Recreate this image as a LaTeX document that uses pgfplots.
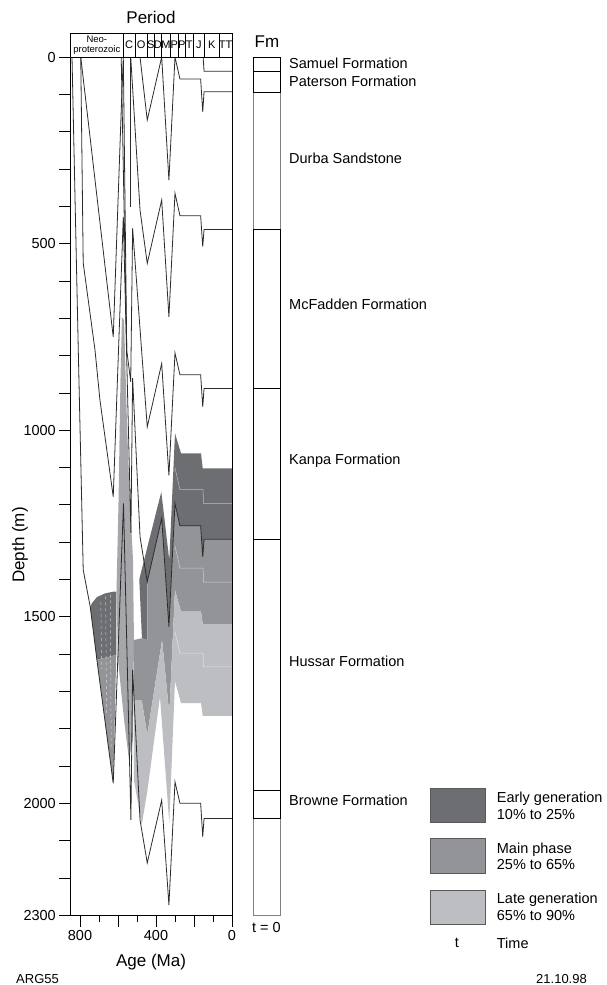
\documentclass[border=0pt]{standalone}
\usepackage{pgfplots}
\pgfplotsset{compat=1.18}
\usepackage{fontspec}
\setmainfont{Liberation Sans}
\definecolor{dk}{HTML}{6D6E71}
\definecolor{md}{HTML}{939497}
\definecolor{lt}{HTML}{BDBEC1}
\definecolor{ln}{HTML}{2B2B2B}
\newcommand\fs[1]{\fontsize{#1bp}{#1bp}\selectfont}
\begin{document}
\begin{tikzpicture}
\useasboundingbox (0bp,0bp) rectangle (607bp,-985bp);

% ---------------- main burial-history axis ----------------
\begin{axis}[at={(70.3bp,-915.5bp)}, anchor=south west, scale only axis,
  width=161.7bp, height=858.5bp,
  xmin=0, xmax=851, x dir=reverse,
  ymin=0, ymax=2300, y dir=reverse,
  axis line style={line width=0.9bp},
  tick align=outside, tick style={black, line width=0.9bp},
  major tick length=11bp, minor tick length=11bp,
  xtick pos=left, ytick pos=left,
  xtick={0,200,400,600,800}, xticklabels={0,,400,,800},
  extra x ticks={100,300,500,700}, extra x tick labels={},
  extra x tick style={major tick length=6bp},
  ytick={0,500,1000,1500,2000,2300}, minor ytick={100,200,...,2200},
  ticklabel style={font=\fs{14.5}},
  /pgf/number format/assume math mode=true, /pgf/number format/1000 sep={},
]
% maturity zones
\addplot[fill=dk, draw=none] coordinates {(746,1473)(737,1463)(711,1447)(668,1437)(621,1432)(608,1433)(609,1602)(711,1615)} -- cycle;
\addplot[fill=md, draw=none] coordinates {(711,1615)(609,1602)(625,1946)} -- cycle;
\addplot[fill=md!55!lt, draw=none] coordinates {(608,1433)(597,1187)(587,865)(579,697)(568,705)(553,972)(542,1133)(521,1348)(516,1562)(521,1830)(542,1883)(568,1776)(600,1615)} -- cycle;
\addplot[fill=dk, draw=none] coordinates {(488,1399)(372,1165)(330,1348)(300,1008)(268,1062)(163,1062)(154,1102)(0,1102)(0,1292)(147,1292)(154,1339)(165,1256)(274,1256)(300,1196)(332,1526)(370,1236)(446,1406)(446,1562)(474,1557)} -- cycle;
\addplot[fill=md, draw=none] coordinates {(516,1562)(474,1557)(446,1562)(446,1406)(370,1236)(332,1526)(300,1196)(274,1256)(165,1256)(154,1339)(147,1292)(0,1292)(0,1519)(154,1519)(163,1486)(268,1486)(300,1428)(330,1760)(368,1562)(446,1816)(475,1723)(516,1723)} -- cycle;
\addplot[fill=lt, draw=none] coordinates {(516,1723)(475,1723)(446,1816)(368,1562)(330,1760)(300,1428)(268,1486)(163,1486)(154,1519)(0,1519)(0,1765)(154,1765)(163,1731)(268,1731)(300,1672)(330,2052)(379,1714)(446,1968)(475,2057)(516,1937)} -- cycle;
% faint sub-layer lines
\addplot[white, opacity=0.55, line width=0.5bp] coordinates {(0,1196)(150,1196)(152,1159)(274,1159)(300,1100)};
\addplot[white, opacity=0.55, line width=0.5bp] coordinates {(0,1407)(150,1407)(152,1369)(274,1369)(300,1310)};
\addplot[white, opacity=0.55, line width=0.5bp] coordinates {(0,1634)(150,1634)(152,1597)(274,1597)(300,1540)};
\addplot[white, opacity=0.6, line width=0.5bp, dashed] coordinates {(690,1460)(686,1640)};
\addplot[white, opacity=0.6, line width=0.5bp, dashed] coordinates {(665,1445)(660,1760)};
\addplot[white, opacity=0.6, line width=0.5bp, dashed] coordinates {(640,1440)(636,1850)};
% burial curves
\addplot[ln, line width=0.8bp] coordinates {(842,0)(809,785)(783,1374)(746,1473)(711,1615)(625,1946)(571,1196)(532,2044)(523,1642)(484,2044)(446,2159)(370,1991)(332,2272)(300,1942)(274,1999)(165,1999)(154,2089)(147,2040)(0,2040)};
\addplot[ln, line width=0.8bp] coordinates {(796,0)(783,552)(721,785)(695,919)(625,1178)(572,428)(532,1275)(523,860)(484,1285)(446,1406)(370,1236)(332,1526)(300,1196)(274,1256)(165,1256)(154,1339)(147,1292)(0,1292)};
\addplot[ln, line width=0.8bp] coordinates {(796,0)(625,750)(581,115)(572,0)(554,785)(533,870)(523,459)(446,991)(370,821)(332,1121)(300,793)(274,851)(165,851)(154,937)(147,888)(0,888)};
\addplot[ln, line width=0.8bp] coordinates {(533,0)(484,410)(446,553)(370,383)(332,696)(300,365)(274,425)(165,425)(154,508)(147,462)(0,462)};
\addplot[ln, line width=0.8bp] coordinates {(484,0)(446,169)(370,0)(332,330)(300,0)(274,59)(165,59)(154,147)(147,93)(0,93)};
\addplot[ln, line width=0.8bp] coordinates {(152,0)(147,38)(0,38)};
\addplot[ln, line width=0.8bp] coordinates {(533,0)(533,401)};
\addplot[ln, line width=0.8bp] coordinates {(583,0)(554,785)};
\end{axis}

% ---------------- formation column ----------------
\begin{axis}[at={(253.3bp,-915.5bp)}, anchor=south west, scale only axis,
  width=27.4bp, height=858.5bp, xmin=0, xmax=1, ymin=0, ymax=2300, y dir=reverse,
  hide axis, clip=false]
\addplot[gray, line width=0.8bp] coordinates {(0,0)(1,0)(1,2300)(0,2300)} -- cycle;
\addplot[black, line width=1bp] coordinates {(0,0)(1,0)(1,95)(0,95)} -- cycle;
\addplot[black, line width=0.8bp] coordinates {(0,38)(1,38)};
\addplot[black, line width=1bp] coordinates {(0,462)(1,462)(1,2040)(0,2040)} -- cycle;
\addplot[black, line width=0.8bp] coordinates {(0,887)(1,887)};
\addplot[black, line width=0.8bp] coordinates {(0,1292)(1,1292)};
\addplot[black, line width=0.8bp] coordinates {(0,1965)(1,1965)};
\end{axis}

% ---------------- overlay: header, labels, legend ----------------
\begin{axis}[at={(0bp,-985bp)}, anchor=south west, scale only axis,
  width=607bp, height=985bp, xmin=0, xmax=607, ymin=0, ymax=985, y dir=reverse,
  hide axis, clip=false]
\addplot[fill=dk, draw=black!65, line width=0.8bp] coordinates {(430,788.3)(485,788.3)(485,822.3)(430,822.3)} -- cycle;
\addplot[fill=md, draw=black!65, line width=0.8bp] coordinates {(430,838.3)(485,838.3)(485,873.3)(430,873.3)} -- cycle;
\addplot[fill=lt, draw=black!65, line width=0.8bp] coordinates {(430,890)(485,890)(485,924)(430,924)} -- cycle;

\draw[line width=0.8bp] (axis cs:70.3,33) rectangle (axis cs:232,57);
\draw[line width=0.6bp] (axis cs:123.3,33) -- (axis cs:123.3,57)
  (axis cs:135,33) -- (axis cs:135,57) (axis cs:147.3,33) -- (axis cs:147.3,57)
  (axis cs:154,33) -- (axis cs:154,57) (axis cs:161.7,33) -- (axis cs:161.7,57)
  (axis cs:170,33) -- (axis cs:170,57) (axis cs:178.3,33) -- (axis cs:178.3,57)
  (axis cs:185.3,33) -- (axis cs:185.3,57) (axis cs:193.3,33) -- (axis cs:193.3,57)
  (axis cs:204.3,33) -- (axis cs:204.3,57) (axis cs:219.3,33) -- (axis cs:219.3,57);
\node[font=\fs{17}] at (axis cs:151,17) {Period};
\node[font=\fontsize{9.5bp}{9.6bp}\selectfont, align=center, inner sep=0pt] at (axis cs:96.8,45) {Neo-\\proterozoic};
\node[font=\fs{11}, inner sep=0pt] at (axis cs:129.2,44.5) {C};
\node[font=\fs{11}, inner sep=0pt] at (axis cs:141.2,44.5) {O};
\node[font=\fs{11}, inner sep=0pt] at (axis cs:150.7,44.5) {S};
\node[font=\fs{11}, inner sep=0pt] at (axis cs:157.9,44.5) {D};
\node[font=\fs{11}, inner sep=0pt] at (axis cs:165.9,44.5) {M};
\node[font=\fs{11}, inner sep=0pt] at (axis cs:174.2,44.5) {P};
\node[font=\fs{11}, inner sep=0pt] at (axis cs:181.8,44.5) {P};
\node[font=\fs{11}, inner sep=0pt] at (axis cs:189.3,44.5) {T};
\node[font=\fs{11}, inner sep=0pt] at (axis cs:198.8,44.5) {J};
\node[font=\fs{11}, inner sep=0pt] at (axis cs:211.8,44.5) {K};
\node[font=\fs{11}, inner sep=0pt] at (axis cs:225.7,44.5) {TT};

\node[font=\fs{17}, rotate=90] at (axis cs:20,545) {Depth (m)};
\node[font=\fs{17}] at (axis cs:151,962) {Age (Ma)};
\node[font=\fs{17}] at (axis cs:267,42) {Fm};
\node[font=\fs{14.5}] at (axis cs:266.5,927) {t = 0};

\node[font=\fs{14.5}, anchor=west, inner sep=0pt] at (axis cs:289,63) {Samuel Formation};
\node[font=\fs{14.5}, anchor=west, inner sep=0pt] at (axis cs:289,81) {Paterson Formation};
\node[font=\fs{14.5}, anchor=west, inner sep=0pt] at (axis cs:289,158) {Durba Sandstone};
\node[font=\fs{14.5}, anchor=west, inner sep=0pt] at (axis cs:289,304) {McFadden Formation};
\node[font=\fs{14.5}, anchor=west, inner sep=0pt] at (axis cs:289,461) {Kanpa Formation};
\node[font=\fs{14.5}, anchor=west, inner sep=0pt] at (axis cs:289,661) {Hussar Formation};
\node[font=\fs{14.5}, anchor=west, inner sep=0pt] at (axis cs:289,800) {Browne Formation};

\node[font=\fontsize{14.5bp}{16.5bp}\selectfont, anchor=west, align=left, inner sep=0pt] at (axis cs:496.7,806) {Early generation\\10\% to 25\%};
\node[font=\fontsize{14.5bp}{16.5bp}\selectfont, anchor=west, align=left, inner sep=0pt] at (axis cs:496.7,856.5) {Main phase\\25\% to 65\%};
\node[font=\fontsize{14.5bp}{16.5bp}\selectfont, anchor=west, align=left, inner sep=0pt] at (axis cs:496.7,907) {Late generation\\65\% to 90\%};
\node[font=\fs{14.5}, inner sep=0pt] at (axis cs:457,943) {t};
\node[font=\fs{14.5}, anchor=west, inner sep=0pt] at (axis cs:496.7,943) {Time};
\node[font=\fs{13}, anchor=west, inner sep=0pt] at (axis cs:16,979) {ARG55};
\node[font=\fs{13}, anchor=east, inner sep=0pt] at (axis cs:587,979) {21.10.98};
\end{axis}
\end{tikzpicture}
\end{document}
